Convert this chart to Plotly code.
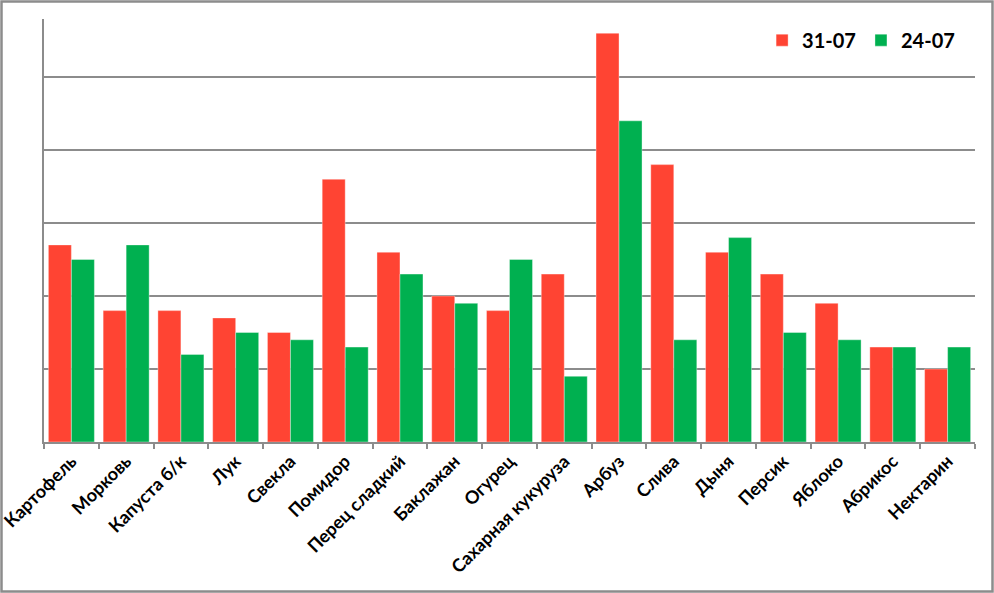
import plotly.graph_objects as go

# categories and prices
categories = [
    "Картофель", "Морковь", "Капуста б/к", "Лук", "Свекла", "Помидор",
    "Перец сладкий", "Баклажан", "Огурец", "Сахарная кукуруза", "Арбуз",
    "Слива", "Дыня", "Персик", "Яблоко", "Абрикос", "Нектарин",
]
series_names = ["31-07", "24-07"]
values_3107 = [27, 18, 18, 17, 15, 36, 26, 20, 18, 23, 56, 38, 26, 23, 19, 13, 10]
values_2407 = [25, 27, 12, 15, 14, 13, 23, 19, 25, 9, 44, 14, 28, 15, 14, 13, 13]

COLORS = ["#FF4433", "#00B050"]
GRID = "#8c8c8c"
FONT = "Lato"

W, H = 994, 593
M = dict(l=44, r=19, t=19, b=151)
pw = W - M["l"] - M["r"]
ph = H - M["t"] - M["b"]

fig = go.Figure()
for name, vals, color in zip(series_names, [values_3107, values_2407], COLORS):
    fig.add_trace(go.Bar(
        x=categories,
        y=vals,
        name=name,
        marker=dict(color=color, line=dict(color="rgba(255,255,255,0.6)", width=0.6)),
    ))

fig.update_xaxes(
    type="category",
    tickson="boundaries",
    ticks="outside",
    ticklen=5,
    tickcolor=GRID,
    tickwidth=1.5,
    showline=True,
    linecolor=GRID,
    linewidth=1.5,
    showgrid=False,
    tickangle=-45,
    automargin=False,
    tickfont=dict(family=FONT, size=18, color="black", weight="bold"),
)
fig.update_yaxes(
    range=[0, 57.95],
    dtick=10,
    showticklabels=False,
    showgrid=True,
    gridcolor=GRID,
    gridwidth=1.5,
    showline=True,
    linecolor=GRID,
    linewidth=1.5,
    zeroline=False,
    ticks="",
    automargin=False,
)

# thin grey frame around the whole chart area
fig.add_shape(
    type="rect",
    xref="paper", yref="paper",
    x0=-(M["l"] - 1.5) / pw, x1=1 + (M["r"] - 1.5) / pw,
    y0=-(M["b"] - 1.5) / ph, y1=1 + (M["t"] - 1.5) / ph,
    line=dict(color=GRID, width=2.5),
    layer="below",
)

fig.update_layout(
    width=W,
    height=H,
    margin=dict(M, autoexpand=False),
    barmode="group",
    bargap=0.16,
    bargroupgap=0,
    plot_bgcolor="white",
    paper_bgcolor="white",
    font=dict(family=FONT, color="black"),
    legend=dict(
        orientation="h",
        x=0.984, xanchor="right",
        y=0.95, yanchor="middle",
        font=dict(family=FONT, size=20, color="black", weight="bold"),
        bgcolor="rgba(0,0,0,0)",
        itemwidth=30,
    ),
)

# page has a default 8px body margin, drop it so the chart fills the window
fig.write_html(
    "out.html",
    config={"displayModeBar": False},
    post_script="document.body.style.margin='0';",
)
